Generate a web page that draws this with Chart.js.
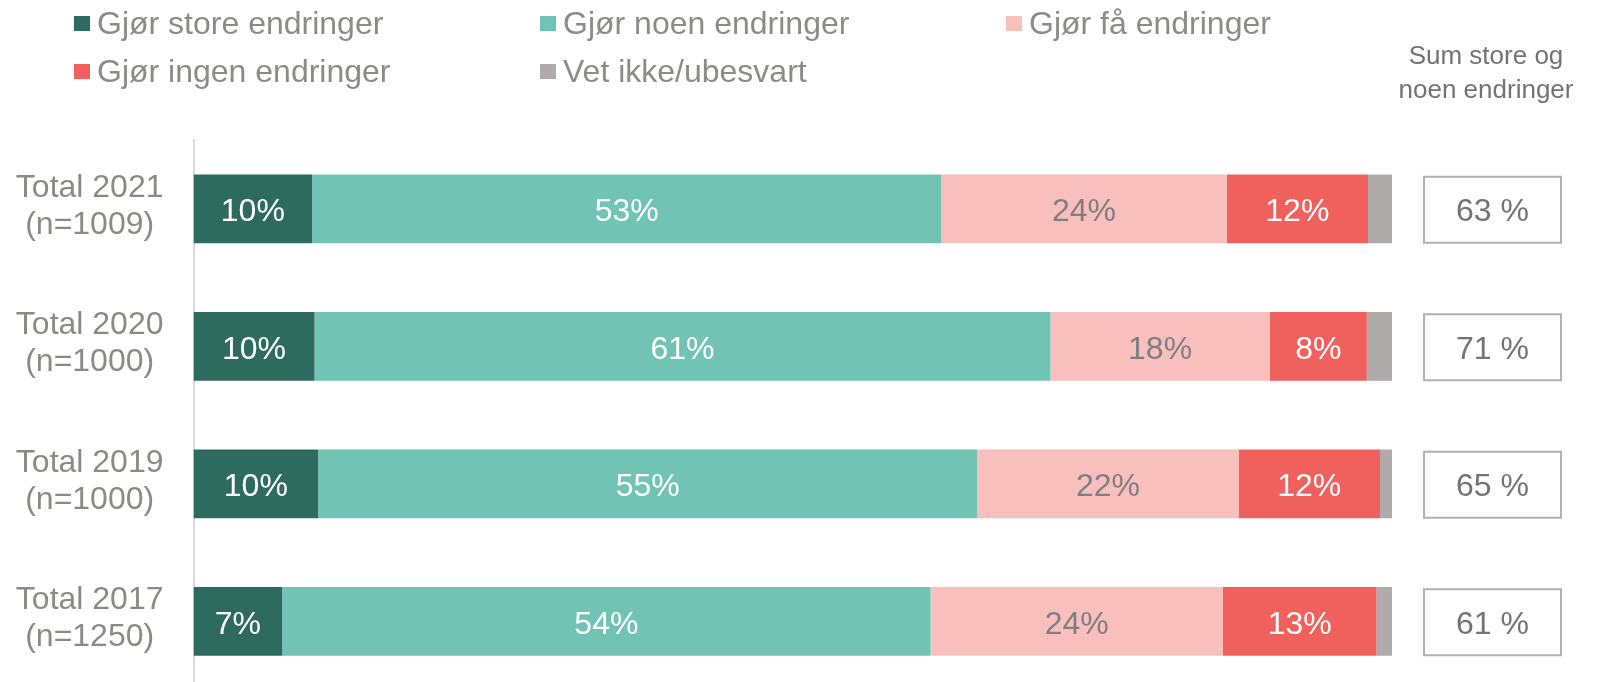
<!DOCTYPE html>
<html>
<head>
<meta charset="utf-8">
<script src="https://cdn.jsdelivr.net/npm/chart.js@4.4.1/dist/chart.umd.min.js"></script>
<style>
  html, body { margin: 0; padding: 0; background: #ffffff; overflow: hidden; }
  #wrap { width: 1603px; height: 682px; overflow: hidden; position: relative; }
  canvas { display: block; }
</style>
</head>
<body>
<div id="wrap"><canvas id="c" width="1603" height="690" style="width:1603px;height:690px"></canvas></div>
<script>
// ---- Data ----
const categories = [['Total 2021', '(n=1009)'], ['Total 2020', '(n=1000)'], ['Total 2019', '(n=1000)'], ['Total 2017', '(n=1250)']];
const seriesNames = ['Gjør store endringer', 'Gjør noen endringer', 'Gjør få endringer', 'Gjør ingen endringer', 'Vet ikke/ubesvart'];
const storeEndringer = [9.9, 10.1, 10.4, 7.4];
const noenEndringer  = [52.5, 61.4, 55.0, 54.1];
const faaEndringer   = [23.8, 18.3, 21.8, 24.4];
const ingenEndringer = [11.8, 8.1, 11.8, 12.8];
const vetIkke        = [2.0, 2.1, 1.0, 1.3];
const sumStoreNoen   = [63, 71, 65, 61];
const sumHeader = ['Sum store og', 'noen endringer'];

const colors = ['#2E6B5F', '#71C3B4', '#F8BFBD', '#F0605C', '#AFABAA'];
const labelColors = ['#FFFFFF', '#FFFFFF', '#7F7F7F', '#FFFFFF', null];
const FONT = "'Liberation Sans', Arial, sans-serif";

const seriesValues = [storeEndringer, noenEndringer, faaEndringer, ingenEndringer, vetIkke];

const extrasPlugin = {
  id: 'extras',
  afterDatasetsDraw(chart) {
    const ctx = chart.ctx;
    ctx.save();
    // segment labels
    ctx.font = '32px ' + FONT;
    ctx.textAlign = 'center';
    ctx.textBaseline = 'alphabetic';
    chart.data.datasets.forEach((ds, i) => {
      if (!labelColors[i]) return;
      const meta = chart.getDatasetMeta(i);
      meta.data.forEach((el, j) => {
        const v = ds.data[j];
        const cx = (el.x + el.base) / 2;
        ctx.fillStyle = labelColors[i];
        ctx.fillText(Math.round(v) + '%', cx, el.y + 12.5);
      });
    });
    // sum boxes
    const yScale = chart.scales.y;
    const boxL = 1424, boxW = 137, boxH = 66;
    sumStoreNoen.forEach((s, j) => {
      const cy = yScale.getPixelForValue(j) + 1;
      ctx.strokeStyle = '#B3B0B0';
      ctx.lineWidth = 2;
      ctx.fillStyle = '#FFFFFF';
      ctx.fillRect(boxL, cy - boxH / 2, boxW, boxH);
      ctx.strokeRect(boxL, cy - boxH / 2, boxW, boxH);
      ctx.fillStyle = '#747474';
      ctx.font = '32px ' + FONT;
      ctx.fillText(s + ' %', boxL + boxW / 2, cy - 1 + 12.5);
    });
    ctx.restore();
  },
  afterDraw(chart) {
    const ctx = chart.ctx;
    ctx.save();
    // header
    ctx.font = '26px ' + FONT;
    ctx.fillStyle = '#737373';
    ctx.textAlign = 'center';
    ctx.textBaseline = 'alphabetic';
    ctx.fillText(sumHeader[0], 1486, 64);
    ctx.fillText(sumHeader[1], 1486, 98);
    // legend
    const cols = [74, 540, 1006];
    const rows = [34, 82];
    ctx.font = '32px ' + FONT;
    ctx.textAlign = 'left';
    chart.data.datasets.forEach((ds, i) => {
      const c = i % 3, r = Math.floor(i / 3);
      const x = cols[c], yb = rows[r];
      ctx.fillStyle = ds.backgroundColor;
      ctx.fillRect(x, yb - 18, 16, 15);
      ctx.fillStyle = '#8B8B88';
      ctx.fillText(ds.label, x + 23, yb);
    });
    ctx.restore();
  }
};

new Chart(document.getElementById('c'), {
  type: 'bar',
  data: {
    labels: categories,
    datasets: seriesNames.map((name, i) => ({
      label: name,
      data: seriesValues[i],
      backgroundColor: colors[i],
      borderWidth: 0,
      categoryPercentage: 1.0,
      barPercentage: 0.5
    }))
  },
  options: {
    indexAxis: 'y',
    responsive: false,
    animation: false,
    layout: { padding: { top: 140, right: 211, bottom: 0, left: 0 } },
    plugins: { legend: { display: false }, tooltip: { enabled: false } },
    scales: {
      x: { stacked: true, min: 0, max: 100, display: false },
      y: {
        stacked: true,
        grid: { display: false, drawTicks: false },
        border: { display: true, color: '#D9D9D9', width: 2 },
        ticks: {
          color: '#8B8B86',
          font: { family: FONT, size: 32, lineHeight: 1.16 },
          crossAlign: 'center',
          padding: 30,
          labelOffset: -2.5
        },
        afterFit(scale) {
          scale.width = 193.5;
          scale.paddingTop = 0;
          scale.paddingBottom = 0;
        }
      }
    }
  },
  plugins: [extrasPlugin]
});
</script>
</body>
</html>
